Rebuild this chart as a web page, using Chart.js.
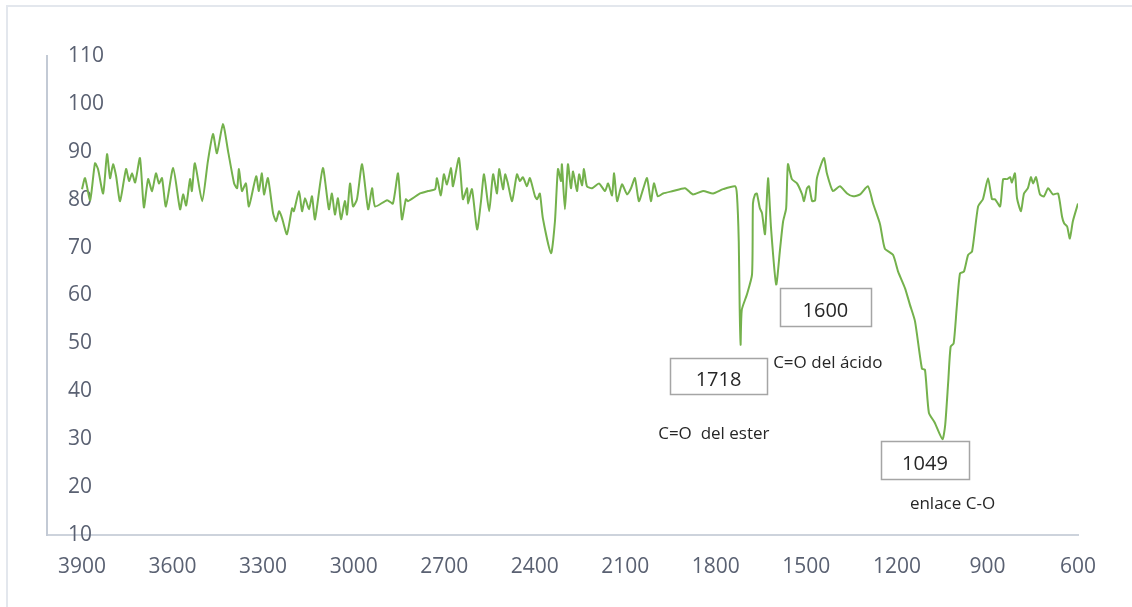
<!DOCTYPE html>
<html lang="es">
<head>
<meta charset="utf-8">
<title>Espectro IR</title>
<script src="https://cdn.jsdelivr.net/npm/chart.js@4.4.1/dist/chart.umd.min.js"></script>
<style>
  html, body { margin: 0; padding: 0; background: #ffffff; }
  #wrap { position: relative; width: 1132px; height: 607px; }
  canvas { display: block; }
</style>
</head>
<body>
<div id="wrap"><canvas id="ir" width="1132" height="607"></canvas></div>
<script>
// Wavenumber (cm-1) and transmittance (%) of the spectrum, high to low wavenumber
const wavenumbers = [
  3900, 3890, 3873, 3857, 3847, 3830, 3817, 3807, 3797, 3787, 3774, 3754, 3744, 3734, 3724,
  3708, 3695, 3681, 3668, 3655, 3645, 3635, 3622, 3598, 3575, 3565, 3555, 3542, 3536, 3526,
  3502, 3483, 3466, 3453, 3433, 3416, 3396, 3386, 3380, 3370, 3357, 3347, 3323, 3314, 3304,
  3297, 3284, 3267, 3257, 3247, 3237, 3221, 3204, 3198, 3181, 3171, 3161, 3148, 3138, 3128,
  3102, 3082, 3072, 3062, 3052, 3042, 3029, 3022, 3012, 3002, 2989, 2972, 2952, 2939, 2929,
  2889, 2870, 2853, 2840, 2827, 2820, 2780, 2754, 2730, 2724, 2711, 2701, 2691, 2677, 2671,
  2651, 2638, 2624, 2621, 2608, 2591, 2578, 2568, 2551, 2538, 2525, 2518, 2505, 2498, 2489,
  2475, 2459, 2449, 2439, 2426, 2416, 2399, 2392, 2383, 2373, 2346, 2333, 2323, 2313, 2310,
  2300, 2290, 2280, 2273, 2260, 2253, 2243, 2237, 2227, 2210, 2187, 2167, 2157, 2144, 2137,
  2127, 2111, 2094, 2081, 2068, 2055, 2041, 2028, 2015, 2005, 1992, 1975, 1942, 1902, 1876,
  1842, 1809, 1776, 1736, 1730, 1724, 1721, 1718, 1714, 1697, 1680, 1677, 1670, 1664, 1654,
  1647, 1637, 1627, 1617, 1600, 1587, 1577, 1567, 1561, 1548, 1531, 1514, 1508, 1498, 1491,
  1481, 1471, 1465, 1442, 1432, 1412, 1389, 1365, 1345, 1322, 1296, 1279, 1256, 1240, 1213,
  1196, 1173, 1157, 1140, 1117, 1107, 1094, 1075, 1049, 1040, 1030, 1022, 1012, 1002, 991,
  978, 964, 951, 931, 915, 898, 885, 875, 858, 848, 835, 825, 819, 809, 802,
  789, 779, 766, 756, 749, 739, 726, 713, 699, 683, 666, 653, 646, 636, 627,
  617, 600
];
const transmittance = [
  82.2, 84.5, 79.9, 87.6, 86.4, 81.3, 89.5, 84.5, 87.4, 84.9, 79.7, 86.4, 83.9, 85.5, 83.6,
  88.7, 78.4, 84.3, 81.8, 85.5, 83.4, 84.5, 78.6, 86.6, 78.0, 81.1, 78.8, 84.3, 81.8, 87.6,
  79.7, 88.0, 93.7, 89.7, 95.8, 90.1, 83.4, 82.4, 86.4, 81.8, 83.4, 78.6, 84.9, 81.8, 85.5,
  81.1, 84.5, 77.2, 75.5, 77.6, 76.1, 72.8, 78.2, 77.6, 81.8, 77.6, 80.3, 78.0, 80.7, 75.9,
  86.6, 78.0, 81.3, 76.9, 80.3, 75.9, 79.7, 76.9, 83.4, 78.6, 80.1, 87.4, 78.0, 82.4, 78.6,
  79.9, 79.2, 85.5, 75.9, 80.1, 79.7, 81.3, 81.8, 82.2, 84.5, 80.9, 85.3, 83.2, 86.6, 82.8,
  88.7, 80.1, 82.4, 79.2, 82.2, 73.8, 79.7, 85.3, 77.6, 85.3, 81.3, 86.4, 82.2, 85.3, 83.4,
  79.7, 85.3, 83.9, 84.7, 82.8, 84.5, 80.7, 80.1, 81.3, 76.1, 68.8, 75.5, 86.4, 83.9, 87.4,
  78.0, 87.4, 82.4, 85.9, 81.8, 85.3, 83.0, 86.4, 82.8, 82.4, 83.4, 81.8, 83.4, 80.9, 85.5,
  79.7, 83.2, 81.1, 82.4, 84.5, 79.7, 82.2, 84.5, 79.7, 83.4, 80.7, 81.3, 81.8, 82.4, 81.1,
  81.8, 81.3, 82.2, 82.8, 81.0, 71.3, 57.5, 49.7, 57.0, 60.2, 64.4, 79.2, 81.1, 81.3, 78.2,
  77.2, 72.8, 84.5, 74.0, 62.3, 69.8, 75.5, 78.2, 87.4, 84.3, 83.4, 81.1, 79.7, 82.4, 82.8,
  79.7, 79.9, 84.5, 88.7, 85.5, 81.8, 82.8, 81.3, 80.7, 81.1, 82.8, 79.2, 74.9, 69.8, 68.5,
  65.0, 61.5, 58.1, 54.6, 44.7, 44.5, 35.5, 33.5, 30.0, 33.0, 42.0, 49.3, 50.0, 57.3, 64.6,
  65.0, 68.5, 69.2, 78.6, 80.1, 84.5, 80.1, 80.1, 78.6, 84.3, 84.3, 84.7, 83.6, 85.5, 80.3,
  77.6, 81.3, 82.4, 84.7, 83.4, 84.7, 81.1, 80.7, 82.4, 81.1, 81.3, 76.5, 75.1, 74.4, 71.9,
  75.5, 79.2
];

// Axis ticks
const xTicks = [3900, 3600, 3300, 3000, 2700, 2400, 2100, 1800, 1500, 1200, 900, 600];
const yTicks = [10, 20, 30, 40, 50, 60, 70, 80, 90, 100, 110];

// Band assignments: boxed wavenumber and caption
const peakLabels = ['1718', '1600', '1049'];
const bandNotes = ['C=O  del ester', 'C=O del ácido', 'enlace C-O'];

// Where the callouts sit, in axis units (wavenumber, %T); box size in px
const boxAnchors = [
  { x: 1791, y: 43.1, w: 97, h: 36 },
  { x: 1437, y: 57.5, w: 91, h: 38 },
  { x: 1107, y: 25.7, w: 88, h: 38 }
];
const noteAnchors = [
  { x: 1991, y: 31.1 },
  { x: 1610, y: 45.8 },
  { x: 1157, y: 16.5 }
];

const points = wavenumbers.map((w, i) => ({ x: w, y: transmittance[i] }));

const TICK_COLOR = '#5a6172';
const AXIS_COLOR = '#cdd3dc';
const FONT = '"Open Sans", "Noto Sans", sans-serif';

// Light frame around the whole chart
const framePlugin = {
  id: 'frame',
  beforeDraw(chart) {
    const ctx = chart.ctx;
    ctx.save();
    ctx.fillStyle = '#ffffff';
    ctx.fillRect(0, 0, chart.width, chart.height);
    ctx.strokeStyle = '#e3e7ed';
    ctx.lineWidth = 2;
    ctx.strokeRect(7, 6, chart.width + 20, chart.height + 20);
    ctx.restore();
  }
};

// Boxed wavenumbers and captions for the assigned bands
const calloutPlugin = {
  id: 'callouts',
  afterDatasetsDraw(chart) {
    const ctx = chart.ctx;
    const xs = chart.scales.x, ys = chart.scales.y;
    ctx.save();
    peakLabels.forEach((txt, i) => {
      const a = boxAnchors[i];
      const cx = xs.getPixelForValue(a.x);
      const cy = ys.getPixelForValue(a.y);
      const left = Math.round(cx - a.w / 2) + 0.5;
      const top = Math.round(cy - a.h / 2) + 0.5;
      ctx.fillStyle = '#ffffff';
      ctx.fillRect(left, top, a.w, a.h);
      ctx.strokeStyle = '#a5a5a5';
      ctx.lineWidth = 1.5;
      ctx.strokeRect(left, top, a.w, a.h);
      ctx.fillStyle = '#262626';
      ctx.font = '20px ' + FONT;
      ctx.textAlign = 'center';
      ctx.textBaseline = 'middle';
      ctx.fillText(txt, cx, cy + 4);
    });
    bandNotes.forEach((txt, i) => {
      const a = noteAnchors[i];
      ctx.fillStyle = '#262626';
      ctx.font = '17px ' + FONT;
      ctx.textAlign = 'left';
      ctx.textBaseline = 'middle';
      ctx.fillText(txt, xs.getPixelForValue(a.x), ys.getPixelForValue(a.y));
    });
    ctx.restore();
  }
};

new Chart(document.getElementById('ir'), {
  type: 'line',
  data: {
    datasets: [{
      data: points,
      borderColor: '#74b14c',
      borderWidth: 2,
      pointRadius: 0,
      tension: 0.2,
      fill: false
    }]
  },
  options: {
    responsive: false,
    animation: false,
    events: [],
    layout: { padding: { left: 47, right: 54, top: 56, bottom: 27 } },
    plugins: { legend: { display: false }, tooltip: { enabled: false } },
    scales: {
      x: {
        type: 'linear',
        reverse: true,
        min: 600,
        max: 4016,
        afterBuildTicks(scale) { scale.ticks = xTicks.map(v => ({ value: v })); },
        afterFit(scale) { scale.height = 45; },
        grid: { display: false, drawTicks: false },
        border: { display: true, color: AXIS_COLOR, width: 2 },
        ticks: {
          color: TICK_COLOR,
          font: { family: FONT, size: 21 },
          padding: 19,
          maxRotation: 0,
          autoSkip: false,
          callback: v => String(v)
        }
      },
      y: {
        min: 10,
        max: 110,
        afterBuildTicks(scale) { scale.ticks = yTicks.map(v => ({ value: v })); },
        afterFit(scale) { scale.width = 0; },
        grid: { display: false, drawTicks: false },
        border: { display: true, color: '#c3cad5', width: 2 },
        ticks: {
          mirror: true,
          crossAlign: 'near',
          padding: 21,
          color: TICK_COLOR,
          font: { family: FONT, size: 21 },
          autoSkip: false
        }
      }
    }
  },
  plugins: [framePlugin, calloutPlugin]
});
</script>
</body>
</html>
